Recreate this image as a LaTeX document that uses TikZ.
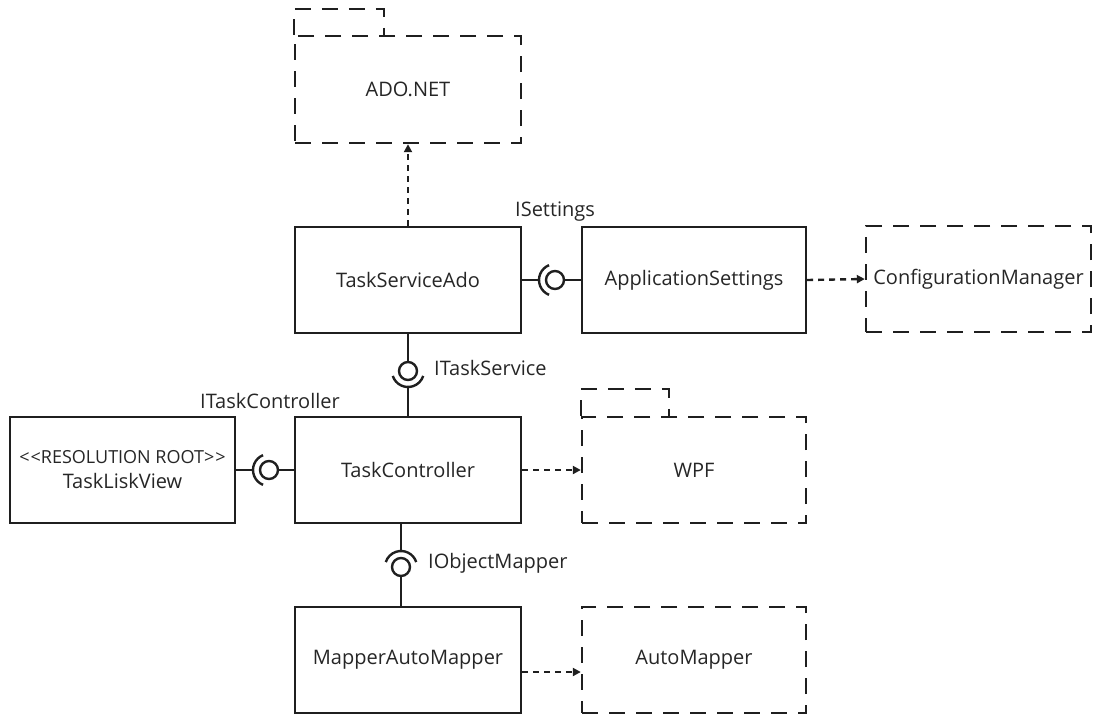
\documentclass[tikz,border=0pt]{standalone}
\usepackage{fontspec}
\setmainfont{Open Sans}
\usetikzlibrary{arrows.meta}
\begin{document}
\begin{tikzpicture}[x=1pt,y=-1pt,
  font=\fontsize{20}{25}\selectfont,
  comp/.style={draw=black!88, line width=2.4pt, minimum width=226pt, minimum height=106pt, inner sep=0pt, text=black!85, align=center},
  pkg/.style={comp, dash pattern=on 16pt off 11pt},
  pkgtab/.style={draw=black!88, line width=2.4pt, dash pattern=on 16pt off 11pt},
  dep/.style={draw=black!88, line width=2.4pt, dash pattern=on 6pt off 5pt, -{Triangle[length=8pt,width=8pt]}},
  wire/.style={draw=black!88, line width=2.4pt},
  ball/.style={circle, draw=black!88, line width=2.4pt, minimum size=18pt, inner sep=0pt},
  lbl/.style={text=black!85, inner sep=0pt, anchor=west}]
\useasboundingbox (0,0) rectangle (1094,713);

% components
\node[comp] (tsa) at (408,280) {TaskServiceAdo};
\node[comp, minimum width=224pt] (appset) at (694,280) {ApplicationSettings};
\node[comp] (tc) at (408,470) {TaskController};
\node[comp, minimum width=225pt] (tlv) at (122.5,470) {{\fontsize{18}{25}\selectfont <\kern1pt<RESOLUTION ROOT>\kern1pt>}\\TaskLiskView};
\node[comp] (mam) at (408,660) {MapperAutoMapper};

% packages
\node[pkg, minimum height=107pt] (ado) at (408,89.5) {ADO.NET};
\draw[pkgtab] (ado.north west) -- ++(0,-26) -- ++(90,0) -- ++(0,26);
\node[pkg, minimum width=225pt] (cfg) at (978.5,279) {ConfigurationManager};
\node[pkg, minimum width=224pt] (wpf) at (694,470) {WPF};
\draw[pkgtab] (wpf.north west) -- ++(0,-27) -- ++(88,0) -- ++(0,27);
\node[pkg, minimum width=224pt] (am) at (694,660) {AutoMapper};

% dependencies
\draw[dep] (tsa.north) -- (ado.south);
\draw[dep] (appset.east) -- (cfg.west);
\draw[dep] (tc.east) -- (wpf.west);
\draw[dep] ([yshift=-12pt]mam.east) -- ([yshift=-12pt]am.west);

% ISettings
\node[ball] (b1) at (555,280) {};
\coordinate (s1) at ([xshift=-16pt]b1.center);
\draw[wire] ([shift={(112:16pt)}]b1.center) arc[start angle=112, end angle=248, radius=16pt];
\draw[wire] (tsa.east) -- (s1);
\draw[wire] (b1.east) -- (appset.west);
\node[lbl] (l1) at (515,212) {ISettings};

% ITaskService
\node[ball] (b2) at (408,371) {};
\coordinate (s2) at ([yshift=-16pt]b2.center);
\draw[wire] ([shift={(198:16pt)}]b2.center) arc[start angle=198, end angle=342, radius=16pt];
\draw[wire] (tsa.south) -- (b2.north);
\draw[wire] (s2) -- (tc.north);
\node[lbl] (l2) at (434,368) {ITaskService};

% ITaskController
\node[ball] (b3) at (269,470) {};
\coordinate (s3) at ([xshift=-16pt]b3.center);
\draw[wire] ([shift={(112:16pt)}]b3.center) arc[start angle=112, end angle=248, radius=16pt];
\draw[wire] (tlv.east) -- (s3);
\draw[wire] (b3.east) -- (tc.west);
\node[lbl] (l3) at (200,401) {ITaskController};

% IObjectMapper
\node[ball] (b4) at (401,567) {};
\coordinate (s4) at ([yshift=16pt]b4.center);
\draw[wire] ([shift={(18:16pt)}]b4.center) arc[start angle=18, end angle=162, radius=16pt];
\draw[wire] ([xshift=-7pt]tc.south) -- (s4);
\draw[wire] (b4.south) -- ([xshift=-7pt]mam.north);
\node[lbl] (l4) at (428,563) {IObjectMapper};
\end{tikzpicture}
\end{document}
